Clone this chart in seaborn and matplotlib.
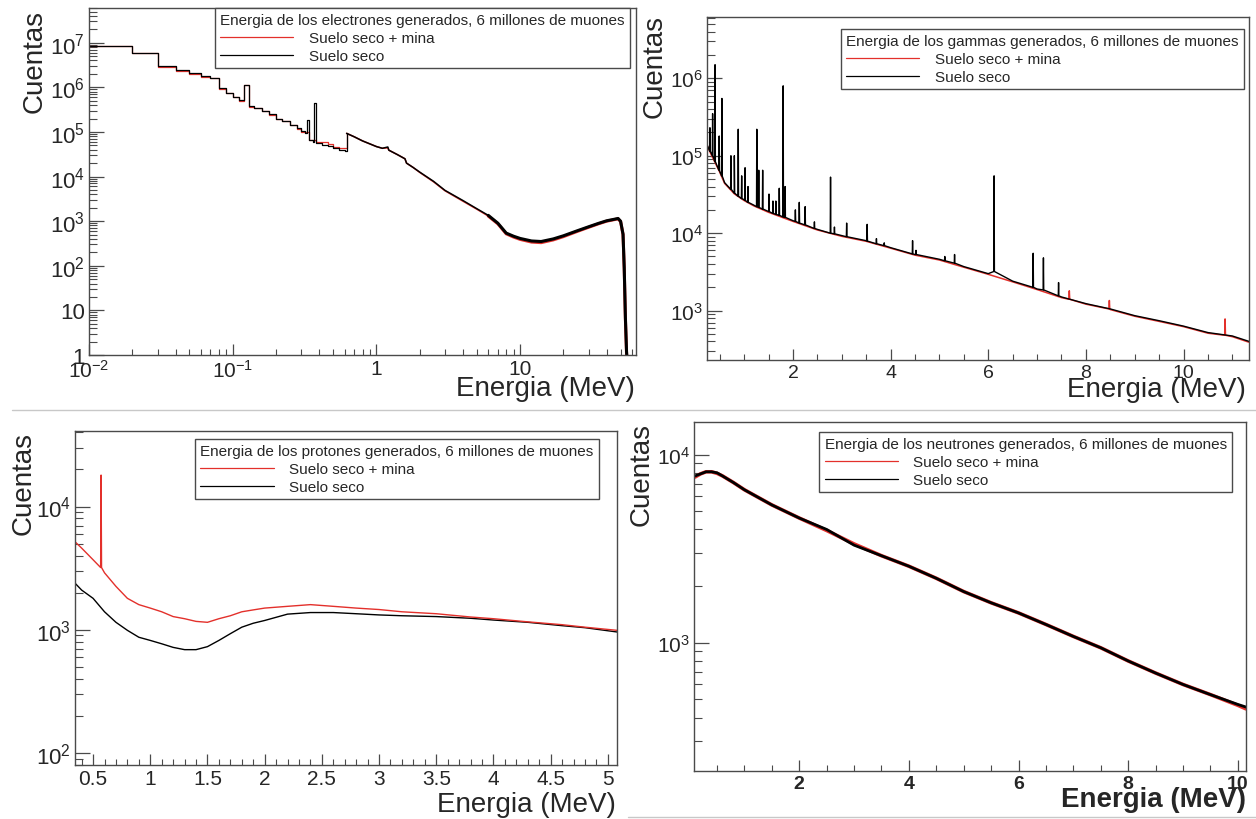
import numpy as np
import pandas as pd
import matplotlib
matplotlib.use('Agg')
import matplotlib.pyplot as plt
import seaborn as sns
from matplotlib.lines import Line2D
from matplotlib.ticker import LogLocator, NullFormatter, FuncFormatter, MultipleLocator

# ---------------- datos ----------------
# electrones (borde izquierdo del bin, cuentas)
ele_e_seco = [0.01, 0.02, 0.03, 0.04, 0.05, 0.06, 0.07, 0.08, 0.09, 0.10, 0.11, 0.12, 0.13, 0.14,
              0.16, 0.18, 0.20, 0.22, 0.25, 0.28, 0.30, 0.32, 0.33, 0.34, 0.36, 0.37, 0.38, 0.42,
              0.46, 0.50, 0.55, 0.60, 0.62, 0.70, 0.80, 0.90, 1.00, 1.10, 1.20, 1.22, 1.40, 1.58,
              1.62, 1.80, 2.0, 2.5, 3.0, 4.0, 5.0, 6.0, 7.0, 8.0, 9.0, 10, 12, 14, 17, 20, 25,
              30, 35, 40, 45, 48, 50, 52, 53, 54, 55, 56]
ele_n_seco = [8.3e6, 5.9e6, 3.0e6, 2.5e6, 2.05e6, 1.8e6, 1.65e6, 9.6e5, 7.4e5, 6.2e5, 5.2e5, 1.15e6,
              3.8e5, 3.5e5, 3.0e5, 2.5e5, 2.0e5, 1.8e5, 1.45e5, 1.2e5, 1.05e5, 9.5e4, 1.9e5, 6.6e4,
              6.0e4, 4.4e5, 5.6e4, 5.2e4, 4.8e4, 4.3e4, 4.0e4, 3.8e4, 9.3e4, 7.8e4, 6.3e4, 5.4e4,
              4.7e4, 4.3e4, 4.6e4, 3.9e4, 3.1e4, 2.5e4, 2.0e4, 1.6e4, 1.26e4, 7.8e3, 4.9e3, 2.9e3,
              1.9e3, 1.35e3, 9.0e2, 5.4e2, 4.6e2, 4.1e2, 3.6e2, 3.5e2, 4.0e2, 4.7e2, 6.1e2, 7.5e2,
              8.9e2, 1.02e3, 1.1e3, 1.15e3, 1.0e3, 5.1e2, 9.0e1, 7.0, 1.2, 0.5]
ele_e_mina = [0.01, 0.02, 0.03, 0.04, 0.05, 0.06, 0.07, 0.08, 0.09, 0.10, 0.11, 0.12, 0.13, 0.14,
              0.16, 0.18, 0.20, 0.22, 0.25, 0.28, 0.30, 0.34, 0.38, 0.42, 0.46, 0.50, 0.55, 0.60,
              0.62, 0.70, 0.80, 0.90, 1.00, 1.10, 1.20, 1.22, 1.40, 1.58, 1.62, 1.80, 2.0, 2.5,
              3.0, 4.0, 5.0, 6.0, 7.0, 8.0, 9.0, 10, 12, 14, 17, 20, 25, 30, 35, 40, 45, 48, 50,
              52, 53, 54, 55, 56]
ele_n_mina = [8.3e6, 5.9e6, 2.8e6, 2.35e6, 2.0e6, 1.7e6, 1.6e6, 9.4e5, 7.3e5, 6.0e5, 5.0e5, 1.1e6,
              3.7e5, 3.4e5, 2.9e5, 2.45e5, 2.0e5, 1.75e5, 1.4e5, 1.18e5, 1.02e5, 6.6e4, 5.9e4,
              5.8e4, 5.4e4, 4.6e4, 4.4e4, 4.3e4, 9.3e4, 7.8e4, 6.3e4, 5.4e4, 4.7e4, 4.3e4, 4.4e4,
              3.9e4, 3.1e4, 2.5e4, 2.0e4, 1.6e4, 1.24e4, 7.6e3, 4.8e3, 2.8e3, 1.85e3, 1.3e3,
              8.7e2, 5.2e2, 4.4e2, 3.9e2, 3.4e2, 3.3e2, 3.8e2, 4.5e2, 5.9e2, 7.3e2, 8.7e2, 1.0e3,
              1.08e3, 1.13e3, 9.8e2, 5.0e2, 8.5e1, 6.5, 1.1, 0.5]

# gammas: continuo + picos
gam_e = [0.24, 0.3, 0.4, 0.5, 0.6, 0.8, 1.0, 1.2, 1.5, 2.0, 2.5, 3.0, 3.5, 4.0, 4.5, 5.0, 5.5,
         6.0, 6.5, 7.0, 7.5, 8.0, 8.5, 9.0, 9.5, 10.0, 10.5, 11.0, 11.34]
gam_n_seco = [1.4e5, 1.15e5, 8.5e4, 6.3e4, 4.5e4, 3.3e4, 2.7e4, 2.3e4, 1.9e4, 1.45e4, 1.12e4, 9.3e3,
              8.0e3, 6.5e3, 5.3e3, 4.6e3, 3.7e3, 3.0e3, 2.4e3, 1.9e3, 1.5e3, 1.23e3, 1.05e3, 860,
              740, 630, 520, 470, 400]
gam_n_mina = [1.37e5, 1.12e5, 8.3e4, 6.15e4, 4.4e4, 3.22e4, 2.64e4, 2.25e4, 1.86e4, 1.42e4, 1.1e4,
              9.1e3, 7.85e3, 6.4e3, 5.2e3, 4.5e3, 3.63e3, 2.94e3, 2.35e3, 1.87e3, 1.47e3, 1.21e3,
              1.03e3, 845, 725, 620, 510, 460, 390]
pico_e_seco = [0.30, 0.355, 0.405, 0.49, 0.545, 0.73, 0.80, 0.88, 0.95, 1.02, 1.08, 1.26, 1.30, 1.38,
               1.51, 1.59, 1.65, 1.72, 1.80, 1.84, 2.05, 2.13, 2.25, 2.44, 2.77, 2.85, 3.10, 3.52,
               3.71, 3.87, 4.45, 4.52, 5.11, 5.31, 6.12, 6.92, 7.13, 7.44]
pico_base_seco = [1.15e5, 1.0e5, 8.4e4, 6.5e4, 5.5e4, 3.7e4, 3.3e4, 3.0e4, 2.8e4, 2.65e4, 2.5e4,
                  2.2e4, 2.15e4, 2.05e4, 1.9e4, 1.8e4, 1.75e4, 1.7e4, 1.62e4, 1.6e4, 1.42e4, 1.35e4,
                  1.28e4, 1.15e4, 1.0e4, 9.8e3, 9.0e3, 7.9e3, 7.3e3, 6.9e3, 5.4e3, 5.3e3, 4.4e3,
                  4.1e3, 3.2e3, 2.0e3, 1.85e3, 1.55e3]
pico_top_seco = [2.3e5, 3.5e5, 1.5e6, 1.8e5, 5.5e5, 1.0e5, 1.0e5, 2.2e5, 5.5e4, 7.0e4, 4.0e4, 2.2e5,
                 6.5e4, 6.5e4, 3.2e4, 2.6e4, 2.6e4, 3.8e4, 8.0e5, 4.0e4, 2.0e4, 2.5e4, 2.2e4, 1.4e4,
                 5.3e4, 1.2e4, 1.35e4, 1.3e4, 8.5e3, 7.5e3, 8.0e3, 6.0e3, 5.0e3, 5.3e3, 5.5e4, 5.5e3,
                 4.8e3, 2.3e3]
pico_e_mina = [7.66, 8.48, 10.85]
pico_base_mina = [1.4e3, 1.05e3, 480]
pico_top_mina = [1.8e3, 1.35e3, 780]

# protones
pro_e = [0.34, 0.4, 0.5, 0.6, 0.7, 0.8, 0.9, 1.0, 1.1, 1.2, 1.3, 1.4, 1.5, 1.6, 1.7, 1.8, 1.9,
         2.0, 2.2, 2.4, 2.6, 2.8, 3.0, 3.2, 3.5, 3.8, 4.0, 4.3, 4.6, 4.8, 5.08]
pro_n_mina = [5.2e3, 4.6e3, 3.7e3, 2.9e3, 2.25e3, 1.8e3, 1.6e3, 1.5e3, 1.4e3, 1.28e3, 1.23e3, 1.17e3,
              1.15e3, 1.23e3, 1.3e3, 1.4e3, 1.45e3, 1.5e3, 1.55e3, 1.6e3, 1.55e3, 1.5e3, 1.46e3,
              1.4e3, 1.35e3, 1.27e3, 1.23e3, 1.16e3, 1.1e3, 1.05e3, 990]
pro_n_seco = [2.4e3, 2.1e3, 1.8e3, 1.4e3, 1.15e3, 990, 870, 820, 770, 720, 690, 690, 730, 820, 930,
              1.05e3, 1.13e3, 1.19e3, 1.34e3, 1.38e3, 1.38e3, 1.35e3, 1.32e3, 1.3e3, 1.28e3, 1.24e3,
              1.2e3, 1.15e3, 1.08e3, 1.04e3, 960]
pico_pro_e = [0.57]
pico_pro_base = [3.2e3]
pico_pro_top = [1.8e4]

# neutrones
neu_e = [0.1, 0.2, 0.3, 0.4, 0.5, 0.6, 0.8, 1.0, 1.5, 2.0, 2.5, 3.0, 3.5, 4.0, 4.5, 5.0, 5.5, 6.0,
         6.5, 7.0, 7.5, 8.0, 8.5, 9.0, 9.5, 10.0, 10.15]
neu_n_mina = [7.6e3, 7.9e3, 8.1e3, 8.1e3, 7.95e3, 7.7e3, 7.1e3, 6.5e3, 5.4e3, 4.6e3, 3.95e3, 3.35e3,
              2.9e3, 2.55e3, 2.2e3, 1.87e3, 1.63e3, 1.44e3, 1.25e3, 1.08e3, 940, 800, 690, 600,
              530, 465, 445]
neu_n_seco = [7.7e3, 7.9e3, 8.1e3, 8.1e3, 8.0e3, 7.7e3, 7.1e3, 6.5e3, 5.4e3, 4.6e3, 4.0e3, 3.3e3,
              2.9e3, 2.55e3, 2.2e3, 1.87e3, 1.63e3, 1.44e3, 1.25e3, 1.08e3, 940, 800, 690, 600,
              530, 470, 455]

titulos = ['Energia de los electrones generados, 6 millones de muones',
           'Energia de los gammas generados, 6 millones de muones',
           'Energia de los protones generados, 6 millones de muones',
           'Energia de los neutrones generados, 6 millones de muones']
etiquetas = ['Suelo seco + mina', 'Suelo seco']

ROJO = '#e3302b'
NEGRO = '#000000'
W, H = 1256, 820

sns.set_theme(style='white')
plt.rcParams['font.family'] = ['Liberation Sans', 'DejaVu Sans']
plt.rcParams['mathtext.fontset'] = 'custom'
plt.rcParams['mathtext.rm'] = 'Liberation Sans'
plt.rcParams['mathtext.default'] = 'regular'

fig = plt.figure(figsize=(W / 100, H / 100), dpi=100)
fig.patch.set_facecolor('white')


def caja(l, r, t, b):
    return [l / W, 1 - b / H, (r - l) / W, (b - t) / H]


def root_log(v, pos):
    e = int(round(np.log10(v)))
    if e == 0:
        return '1'
    if e == 1:
        return '10'
    return r'$10^{%d}$' % e


def con_picos(e, n, pe, pb, pt, w):
    xs = list(e)
    ys = list(n)
    for x0, b, t in zip(pe, pb, pt):
        xs += [x0 - w, x0, x0 + w]
        ys += [b, t, b]
    return pd.DataFrame({'E': xs, 'N': ys}).sort_values('E')


def electrones(ax, e, n, color):
    # bins anchos (escalones) hasta 0.62 MeV, luego bins finos
    df = pd.DataFrame({'E': e, 'N': n})
    bajo = df[df.E <= 0.62]
    medio = df[(df.E >= 0.62) & (df.E <= 6)]
    alto = df[df.E >= 6]
    sns.lineplot(data=bajo, x='E', y='N', ax=ax, color=color, lw=0.9, estimator=None,
                 errorbar=None, drawstyle='steps-post')
    sns.lineplot(data=medio, x='E', y='N', ax=ax, color=color, lw=1.1, estimator=None,
                 errorbar=None)
    sns.lineplot(data=alto, x='E', y='N', ax=ax, color=color, lw=2.2, estimator=None,
                 errorbar=None)


def estilo(ax, ylab_pos, xlab_pos, xsize, ysize, bold=False):
    for s in ax.spines.values():
        s.set_color('#4a4a4a')
        s.set_linewidth(1.0)
    ax.yaxis.set_major_locator(LogLocator(base=10, numticks=20))
    ax.yaxis.set_minor_locator(LogLocator(base=10, subs=np.arange(2, 10), numticks=20))
    ax.yaxis.set_major_formatter(FuncFormatter(root_log))
    ax.yaxis.set_minor_formatter(NullFormatter())
    ax.tick_params(axis='y', which='major', direction='in', length=11, width=0.9,
                   color='#4a4a4a', labelsize=ysize, pad=3, left=True, right=False)
    ax.tick_params(axis='y', which='minor', direction='in', length=6, width=0.8,
                   color='#4a4a4a', left=True, right=False)
    ax.tick_params(axis='x', which='major', direction='in', length=8, width=0.9,
                   color='#4a4a4a', labelsize=xsize, pad=3, bottom=True, top=False)
    ax.tick_params(axis='x', which='minor', direction='in', length=4.5, width=0.8,
                   color='#4a4a4a', bottom=True, top=False)
    ax.set_xlabel('')
    ax.set_ylabel('')
    fw = 'bold' if bold else 'normal'
    if bold:
        plt.setp(ax.get_xticklabels(), fontweight='bold')
    fig.text(ylab_pos[0] / W, 1 - ylab_pos[1] / H, 'Cuentas', rotation=90,
             ha='center', va='top', fontsize=20)
    fig.text(xlab_pos[0] / W, 1 - xlab_pos[1] / H, 'Energia (MeV)', ha='right',
             va='center', fontsize=20, fontweight=fw)


def leyenda(ax, titulo, box, dx, dy):
    l, r, t, b = box
    hs = [Line2D([], [], color=ROJO, lw=0.9), Line2D([], [], color=NEGRO, lw=0.9)]
    leg = ax.legend(hs, etiquetas, title=titulo, loc='upper right',
                    bbox_to_anchor=(1 - dx / (r - l), 1 - dy / (b - t)),
                    alignment='left', fontsize=11, title_fontsize=11, frameon=True,
                    fancybox=False, edgecolor='#4a4a4a', framealpha=1, borderaxespad=0,
                    borderpad=0.35, labelspacing=0.25, handlelength=4.8, handletextpad=1.0)
    leg.get_frame().set_linewidth(1.0)


# ---- panel 1: electrones ----
b1 = (89, 636, 9, 356)
ax1 = fig.add_axes(caja(*b1))
electrones(ax1, ele_e_mina, ele_n_mina, ROJO)
electrones(ax1, ele_e_seco, ele_n_seco, NEGRO)
ax1.set_xscale('log')
ax1.set_yscale('log')
ax1.set_xlim(0.01, 64)
ax1.set_ylim(1, 6e7)
ax1.xaxis.set_major_locator(LogLocator(base=10, numticks=20))
ax1.xaxis.set_minor_locator(LogLocator(base=10, subs=np.arange(2, 10), numticks=20))
ax1.xaxis.set_major_formatter(FuncFormatter(root_log))
ax1.xaxis.set_minor_formatter(NullFormatter())
estilo(ax1, (35, 10), (635, 389), 15, 16)
leyenda(ax1, titulos[0], b1, 6, 0)

# ---- panel 2: gammas ----
b2 = (707, 1249, 18, 361)
ax2 = fig.add_axes(caja(*b2))
g_mina = con_picos(gam_e, gam_n_mina, pico_e_mina, pico_base_mina, pico_top_mina, 0.008)
g_seco = con_picos(gam_e, gam_n_seco, pico_e_seco, pico_base_seco, pico_top_seco, 0.006)
sns.lineplot(data=g_mina, x='E', y='N', ax=ax2, color=ROJO, lw=1.1, estimator=None, errorbar=None)
sns.lineplot(data=g_seco, x='E', y='N', ax=ax2, color=NEGRO, lw=1.0, estimator=None, errorbar=None)
ax2.set_yscale('log')
ax2.set_xlim(0.24, 11.34)
ax2.set_ylim(230, 6.2e6)
ax2.xaxis.set_major_locator(MultipleLocator(2))
ax2.xaxis.set_minor_locator(MultipleLocator(0.5))
estilo(ax2, (655, 15), (1246, 390), 14, 15)
leyenda(ax2, titulos[1], b2, 5, 12)

# ---- panel 3: protones ----
b3 = (75, 617, 432, 766)
ax3 = fig.add_axes(caja(*b3))
p_mina = con_picos(pro_e, pro_n_mina, pico_pro_e, pico_pro_base, pico_pro_top, 0.004)
sns.lineplot(x=pro_e, y=pro_n_seco, ax=ax3, color=NEGRO, lw=1.0, estimator=None, errorbar=None)
sns.lineplot(data=p_mina, x='E', y='N', ax=ax3, color=ROJO, lw=1.0, estimator=None, errorbar=None)
ax3.set_yscale('log')
ax3.set_xlim(0.342, 5.08)
ax3.set_ylim(80, 4.1e4)
ax3.xaxis.set_major_locator(MultipleLocator(0.5))
ax3.xaxis.set_minor_locator(MultipleLocator(0.1))
ax3.xaxis.set_major_formatter(FuncFormatter(lambda v, p: '%g' % v))
estilo(ax3, (24, 432), (616, 805), 15, 16)
leyenda(ax3, titulos[2], b3, 18, 8)

# ---- panel 4: neutrones ----
b4 = (694, 1246, 423, 772)
ax4 = fig.add_axes(caja(*b4))
sns.lineplot(x=neu_e, y=neu_n_mina, ax=ax4, color=ROJO, lw=2.6, estimator=None, errorbar=None)
sns.lineplot(x=neu_e, y=neu_n_seco, ax=ax4, color=NEGRO, lw=2.0, estimator=None, errorbar=None)
ax4.set_yscale('log')
ax4.set_xlim(0.08, 10.15)
ax4.set_ylim(208, 1.49e4)
ax4.xaxis.set_major_locator(MultipleLocator(2))
ax4.xaxis.set_minor_locator(MultipleLocator(0.5))
ax4.xaxis.set_major_formatter(FuncFormatter(lambda v, p: '%g' % v))
estilo(ax4, (642, 423), (1246, 800), 14, 15, bold=True)
leyenda(ax4, titulos[3], b4, 14, 10)

# lineas separadoras de la composicion
fig.add_artist(Line2D([12 / W, 1], [1 - 411 / H, 1 - 411 / H], color='#c8c8c8', lw=1.0))
fig.add_artist(Line2D([628 / W, 1], [1 - 818 / H, 1 - 818 / H], color='#c8c8c8', lw=1.0))

fig.savefig('out.png', dpi=100, facecolor='white')
